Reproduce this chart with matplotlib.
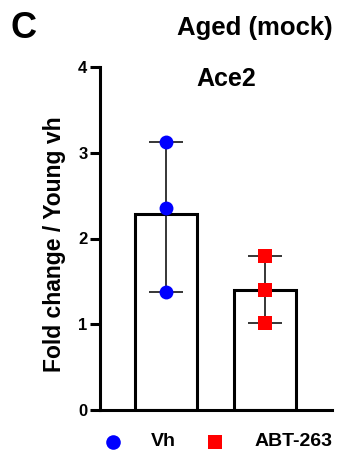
import matplotlib
matplotlib.use("Agg")
import matplotlib.pyplot as plt
from matplotlib.lines import Line2D
import numpy as np

plt.rcParams['font.family'] = ['Liberation Sans', 'DejaVu Sans']
plt.rcParams['font.weight'] = 'bold'

groups = ["Vh", "ABT-263"]
vh_values = [3.12, 2.35, 1.38]
abt_values = [1.80, 1.40, 1.01]
colors = ["#0000ff", "#ff0000"]
markers = ["o", "s"]
yticks = [0, 1, 2, 3, 4]

W, H = 343, 459
fig = plt.figure(figsize=(W / 100, H / 100), dpi=100)
ax = fig.add_axes([100 / W, 1 - 410 / H, 232 / W, 343 / H])

data = [vh_values, abt_values]
xs = np.arange(len(groups))
for x, vals, c, m in zip(xs, data, colors, markers):
    mean = np.mean(vals)
    ax.bar(x, mean, width=0.635, facecolor='white', edgecolor='black', linewidth=2.2, zorder=1)
    lo, hi = min(vals), max(vals)
    ax.errorbar(x, mean, yerr=[[mean - lo], [hi - mean]], fmt='none', ecolor='black',
                elinewidth=1.1, capsize=12, capthick=1.1, zorder=2)
    ax.scatter([x] * len(vals), vals, color=c, marker=m, s=100, zorder=3, linewidths=0)

ax.set_xlim(-0.667, 1.677)
ax.set_ylim(0, 4)
ax.set_yticks(yticks)
ax.set_yticklabels([str(t) for t in yticks], fontsize=12, fontweight='bold')
ax.set_xticks([])
for s in ['top', 'right']:
    ax.spines[s].set_visible(False)
for s in ['left', 'bottom']:
    ax.spines[s].set_linewidth(2.2)
ax.tick_params(axis='y', width=2.2, length=7, pad=2)

fig.text(55 / W, 1 - 244 / H, "Fold change / Young vh", fontsize=16.5, fontweight='bold',
         rotation=90, ha='center', va='center')
fig.text(226 / W, 1 - 79 / H, "Ace2", fontsize=18, fontweight='bold', ha='center', va='center')
fig.text(333 / W, 1 - 28 / H, "Aged (mock)", fontsize=18.5, fontweight='bold', ha='right', va='center')
fig.text(11 / W, 1 - 28 / H, "C", fontsize=26, fontweight='bold', ha='left', va='center')

# legend
ly = 1 - 442 / H
for (mx, m, c) in [(113, markers[0], colors[0]), (215, markers[1], colors[1])]:
    fig.add_artist(Line2D([mx / W], [ly], transform=fig.transFigure, linestyle='none',
                          marker=m, color=c, markersize=10.5, markeredgewidth=0))
fig.text(151 / W, ly, groups[0], fontsize=14, fontweight='bold', ha='left', va='center')
fig.text(255 / W, ly, groups[1], fontsize=14, fontweight='bold', ha='left', va='center')

fig.savefig("out.png", dpi=100)
